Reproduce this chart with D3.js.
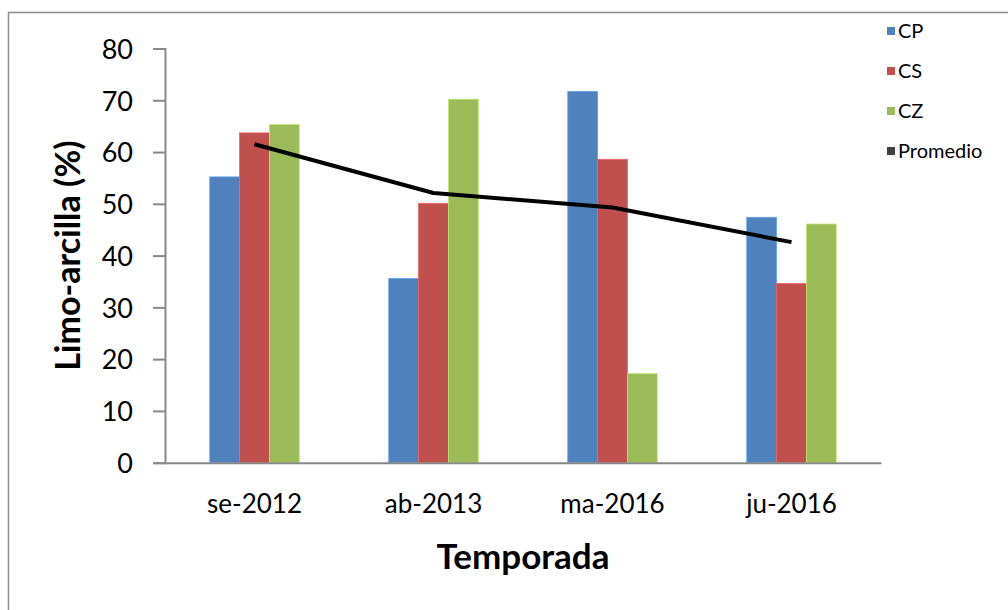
<!DOCTYPE html>
<html>
<head>
<meta charset="utf-8">
<script src="https://cdn.jsdelivr.net/npm/d3@7/dist/d3.min.js"></script>
<style>
  html, body { margin: 0; padding: 0; background: #fff; }
  svg { display: block; }
  text { font-family: Lato, "Open Sans", sans-serif; fill: #000; }
</style>
</head>
<body>
<svg id="chart" width="1008" height="610"></svg>
<script>
// Limo-arcilla (%) por temporada y cuenca
const categories = ["se-2012", "ab-2013", "ma-2016", "ju-2016"];
const seriesNames = ["CP", "CS", "CZ"];
const cpValues = [55.2, 35.6, 71.7, 47.4];
const csValues = [63.7, 50.1, 58.6, 34.6];
const czValues = [65.3, 70.2, 17.2, 46.1];
const promedioValues = [61.5, 52.1, 49.3, 42.6];
const yTicks = [0, 10, 20, 30, 40, 50, 60, 70, 80];
const legendNames = ["CP", "CS", "CZ", "Promedio"];

const seriesColors = { CP: "#4F81BD", CS: "#C0504D", CZ: "#9BBB59", Promedio: "#404040" };
const seriesValues = { CP: cpValues, CS: csValues, CZ: czValues };

const svg = d3.select("#chart");

// outer chart frame
svg.append("rect")
  .attr("x", 8.5).attr("y", 12.5)
  .attr("width", 1020).attr("height", 620)
  .attr("fill", "none").attr("stroke", "#8c8c8c").attr("stroke-width", 1.5);

const plot = { left: 165, right: 881, top: 48.5, bottom: 462.7 };

const x = d3.scaleBand()
  .domain(categories)
  .range([plot.left, plot.right])
  .paddingInner(0.5)
  .paddingOuter(0.25);

const xSeries = d3.scaleBand()
  .domain(seriesNames)
  .range([0, x.bandwidth()]);

const y = d3.scaleLinear()
  .domain([0, 80])
  .range([plot.bottom, plot.top]);

// bars
const groups = svg.append("g").selectAll("g")
  .data(categories)
  .join("g")
  .attr("transform", d => `translate(${x(d)},0)`);

groups.selectAll("rect")
  .data((c, i) => seriesNames.map(s => ({ s, v: seriesValues[s][i] })))
  .join("rect")
  .attr("x", d => xSeries(d.s))
  .attr("y", d => y(d.v))
  .attr("width", xSeries.bandwidth())
  .attr("height", d => y(0) - y(d.v))
  .attr("fill", d => seriesColors[d.s])
  .attr("stroke", d => d3.color(seriesColors[d.s]).brighter(0.6))
  .attr("stroke-width", 0.8);

// y axis
const yAxis = d3.axisLeft(y)
  .tickValues(yTicks)
  .tickSize(12)
  .tickPadding(20)
  .tickFormat(d3.format("d"));

const gy = svg.append("g")
  .attr("transform", `translate(${plot.left},0)`)
  .call(yAxis);
gy.select(".domain").attr("stroke", "#888").attr("stroke-width", 2);
gy.selectAll(".tick line").attr("stroke", "#888").attr("stroke-width", 2);
gy.selectAll(".tick text")
  .attr("font-size", 27)
  .attr("dy", "0.36em")
  .style("font-family", "Lato, sans-serif");

// x axis
const xAxis = d3.axisBottom(x).tickSize(0).tickPadding(32);
const gx = svg.append("g")
  .attr("transform", `translate(0,${plot.bottom})`)
  .call(xAxis);
gx.select(".domain").attr("stroke", "#888").attr("stroke-width", 2);
gx.selectAll(".tick text")
  .attr("font-size", 26)
  .style("font-family", "Lato, sans-serif");

// average line
const line = d3.line()
  .x((d, i) => x(categories[i]) + x.bandwidth() / 2)
  .y(d => y(d));

svg.append("path")
  .datum(promedioValues)
  .attr("d", line)
  .attr("fill", "none")
  .attr("stroke", "#000")
  .attr("stroke-width", 4)
  .attr("stroke-linejoin", "round");

// axis titles
svg.append("text")
  .attr("x", (plot.left + plot.right) / 2)
  .attr("y", 569)
  .attr("text-anchor", "middle")
  .attr("font-size", 35)
  .attr("font-weight", "bold")
  .text("Temporada");

svg.append("text")
  .attr("transform", `translate(80,${(plot.top + plot.bottom) / 2}) rotate(-90)`)
  .attr("text-anchor", "middle")
  .attr("font-size", 34)
  .attr("font-weight", "bold")
  .text("Limo-arcilla (%)");

// legend
const legend = svg.append("g").selectAll("g")
  .data(legendNames)
  .join("g")
  .attr("transform", (d, i) => `translate(887,${31 + i * 40})`);

legend.append("rect")
  .attr("x", 0).attr("y", -4)
  .attr("width", 8).attr("height", 8)
  .attr("fill", d => seriesColors[d]);

legend.append("text")
  .attr("x", 11)
  .attr("dy", "0.36em")
  .attr("font-size", 20)
  .text(d => d);
</script>
</body>
</html>
